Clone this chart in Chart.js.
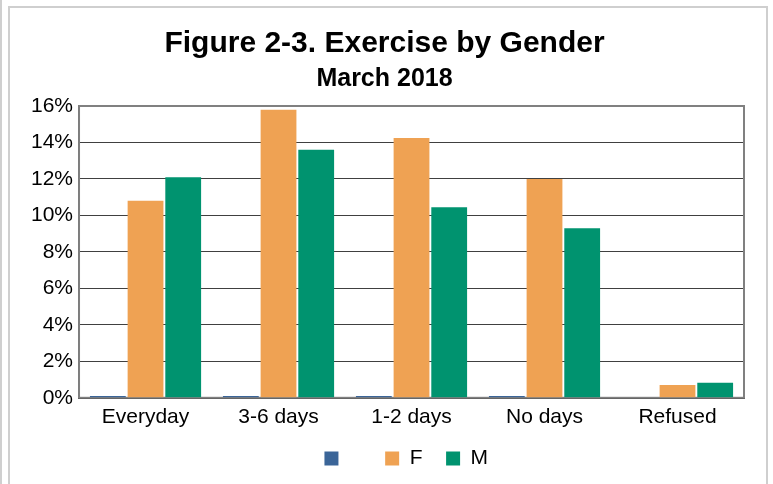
<!DOCTYPE html>
<html>
<head>
<meta charset="utf-8">
<script src="https://cdn.jsdelivr.net/npm/chart.js@4.4.1/dist/chart.umd.min.js"></script>
<style>
  body { margin: 0; background: #fff; }
  #edge { position: absolute; left: 0; top: 0; width: 2px; height: 484px; background: #cfcfcf; }
  #frame { position: absolute; left: 8px; top: 6px; width: 756px; height: 490px; border: 2px solid #cfcfcf; }
  #wrap { position: absolute; left: 0; top: 0; width: 756px; height: 476px; }
</style>
</head>
<body>
<div id="edge"></div>
<div id="frame">
  <div id="wrap"><canvas id="myChart"></canvas></div>
</div>
<script>
const categories = ['Everyday', '3-6 days', '1-2 days', 'No days', 'Refused'];
const blankValues = [0.1, 0.1, 0.1, 0.1, 0];
const femaleValues = [10.8, 15.8, 14.25, 12.0, 0.7];
const maleValues = [12.1, 13.6, 10.45, 9.3, 0.82];
const yTicks = [0, 2, 4, 6, 8, 10, 12, 14, 16];

// grey frame around plot area (right / top edges)
const plotFrame = {
  id: 'plotFrame',
  beforeDatasetsDraw(chart) {
    const a = chart.chartArea, c = chart.ctx;
    c.save();
    c.strokeStyle = '#808080';
    c.lineWidth = 2;
    c.strokeRect(a.left, a.top, a.right - a.left, a.bottom - a.top);
    c.restore();
  }
};

const ctx = document.getElementById('myChart');
const font = 'Liberation Sans, Arial';

new Chart(ctx, {
  type: 'bar',
  data: {
    labels: categories,
    datasets: [
      // trailing spaces only keep the legend spacing like the original
      { label: '\u2003\u2009', data: blankValues, backgroundColor: '#3b6598' },
      { label: 'F\u2009\u2009\u2009', data: femaleValues, backgroundColor: '#efa253' },
      { label: 'M\u2002', data: maleValues, backgroundColor: '#00936f' }
    ]
  },
  options: {
    responsive: true,
    maintainAspectRatio: false,
    animation: false,
    layout: { padding: { left: 15, right: 22, bottom: 5 } },
    datasets: { bar: { categoryPercentage: 0.85, barPercentage: 0.95 } },
    scales: {
      x: {
        grid: { display: false, drawTicks: false },
        border: { color: '#000', width: 2 },
        ticks: { color: '#000', padding: 7, font: { family: font, size: 21 } }
      },
      y: {
        min: 0,
        max: 16,
        afterBuildTicks: function(axis) { axis.ticks = yTicks.map(function(v) { return { value: v }; }); },
        grid: { color: '#404040', lineWidth: 1, drawTicks: false },
        border: { color: '#000', width: 2 },
        ticks: {
          color: '#000', padding: 6,
          font: { family: font, size: 21 },
          callback: function(v) { return v + '%'; }
        }
      }
    },
    plugins: {
      title: {
        display: true,
        text: 'Figure 2-3. Exercise by Gender',
        color: '#000',
        font: { family: font, size: 30, weight: 'bold' },
        padding: { top: 18, bottom: 0 }
      },
      subtitle: {
        display: true,
        text: 'March 2018',
        color: '#000',
        font: { family: font, size: 25, weight: 'bold' },
        padding: { top: 2, bottom: 12 }
      },
      legend: {
        position: 'bottom',
        fullSize: false,
        labels: {
          color: '#000',
          boxWidth: 14,
          boxHeight: 14,
          padding: 11,
          font: { family: font, size: 21 }
        }
      },
      tooltip: { enabled: false }
    }
  },
  plugins: [plotFrame]
});
</script>
</body>
</html>
